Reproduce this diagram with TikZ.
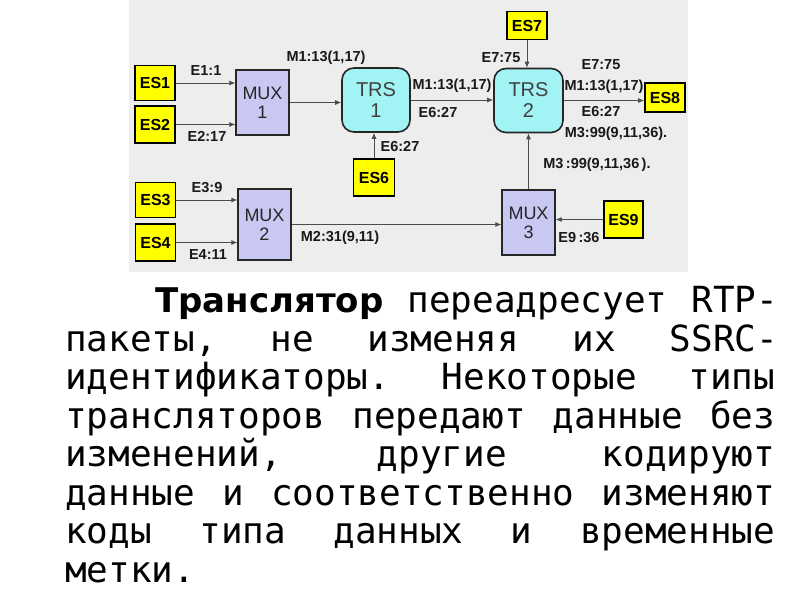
\documentclass[tikz,border=0pt]{standalone}
\usepackage{fontspec}
\setmainfont{DejaVu Sans}
\setmonofont{DejaVu Sans Mono}
\newfontfamily\labfont{Liberation Sans}
\usetikzlibrary{arrows.meta}
\definecolor{diagbg}{HTML}{EDEDED}
\definecolor{esyellow}{HTML}{FFFF00}
\definecolor{muxfill}{HTML}{C8C8F2}
\definecolor{trsfill}{HTML}{A2F4F4}
\newcommand\gap{\hspace{0pt plus 1fill}\ }
\begin{document}
\begin{tikzpicture}[x=1pt,y=-1pt,
  es/.style={draw=black, line width=1.7pt, fill=esyellow, minimum width=40pt, minimum height=35pt, inner sep=0pt, font=\labfont\bfseries\fontsize{16}{16}\selectfont},
  mux/.style={draw=black!85, line width=1.3pt, fill=muxfill, minimum width=53pt, minimum height=65pt, inner sep=0pt, align=center, text=black!85, font=\labfont\fontsize{18}{19}\selectfont},
  trs/.style={draw=black!85, line width=1.6pt, fill=trsfill, rounded corners=12pt, minimum width=68pt, minimum height=64pt, inner sep=0pt, align=center, text=black!75, font=\labfont\fontsize{20}{21}\selectfont},
  lbl/.style={inner sep=0pt, text=black!90, font=\labfont\bfseries\fontsize{14.5}{15}\selectfont},
  conn/.style={draw=black!70, line width=0.8pt, -{Latex[length=6pt,width=5pt]}},
  body/.style={anchor=base west, inner sep=0pt, font=\ttfamily\fontsize{36}{38}\selectfont}
]
\useasboundingbox (0,0) rectangle (800,600);
\fill[white] (0,0) rectangle (800,600);
\fill[diagbg] (129,0) rectangle (688,272);

% sources
\node[es] (es1) at (155,83) {ES1};
\node[es, minimum height=37pt] (es2) at (155,124.5) {ES2};
\node[es] (es3) at (155.5,200) {ES3};
\node[es, minimum height=37pt] (es4) at (155.5,242.5) {ES4};
\node[es, minimum width=41pt, minimum height=37pt] (es6) at (374,177.5) {ES6};
\node[es, minimum height=28pt] (es7) at (527,25.5) {ES7};
\node[es, minimum height=29pt] (es8) at (665,97.5) {ES8};
\node[es, minimum width=39pt, minimum height=37pt] (es9) at (623.5,219.5) {ES9};

% mixers and translators
\node[mux] (mux1) at (262.5,102.5) {MUX\\1};
\node[mux, minimum height=71pt] (mux2) at (264.5,224.5) {MUX\\2};
\node[mux] (mux3) at (528.5,222.5) {MUX\\3};
\node[trs] (trs1) at (376,100) {TRS\\1};
\node[trs, minimum width=69pt] (trs2) at (528.5,100.5) {TRS\\2};

% connectors
\draw[conn] (es1.east) -- (es1.east -| mux1.west);
\draw[conn] (es2.east) -- (es2.east -| mux1.west);
\draw[conn] (mux1.east) -- (mux1.east -| trs1.west);
\draw[conn] (trs1.east) -- (trs1.east -| trs2.west);
\draw[conn] (es6.north) -- (es6.north |- trs1.south);
\draw[conn] (es7.south) -- (es7.south |- trs2.north);
\draw[conn] (trs2.east) -- (trs2.east -| es8.west);
\draw[conn] (mux3.north) -- (trs2.south);
\draw[conn] (es3.east) -- (es3.east -| mux2.west);
\draw[conn] (es4.east) -- (es4.east -| mux2.west);
\draw[conn] (mux2.east) -- (mux2.east -| mux3.west);
\draw[conn] (es9.west) -- (es9.west -| mux3.east);

% labels
\node[lbl] (l1) at (206,71) {E1:1};
\node[lbl] (l2) at (207,136) {E2:17};
\node[lbl] (l3) at (326,58) {M1:13(1,17)};
\node[lbl] (l4) at (452,86) {M1:13(1,17)};
\node[lbl] (l5) at (438,113) {E6:27};
\node[lbl] (l6) at (400,147) {E6:27};
\node[lbl] (l7) at (501,58) {E7:75};
\node[lbl] (l8) at (601,65) {E7:75};
\node[lbl] (l9) at (604,87) {M1:13(1,17)};
\node[lbl] (l10) at (601,112) {E6:27};
\node[lbl] (l11) at (616,134) {M3:99(9,11,36).};
\node[lbl] (l12) at (597,165) {M3\,:99(9,11,36\,).};
\node[lbl] (l13) at (207,188) {E3:9};
\node[lbl] (l14) at (208,255) {E4:11};
\node[lbl] (l15) at (340,238) {M2:31(9,11)};
\node[lbl] (l16) at (579,238) {E9\,:36};

% body text
\node[body] (t1) at (155,312.5) {\makebox[623pt][s]{{\rmfamily\fontsize{34}{38}\selectfont\bfseries Транслятор}\gap переадресует\gap RTP-}};
\node[body] (t2) at (65,351) {\makebox[713pt][s]{пакеты,\gap не\gap изменяя\gap их\gap SSRC-}};
\node[body] (t3) at (65,389.5) {\makebox[710pt][s]{идентификаторы.\gap Некоторые\gap типы}};
\node[body] (t4) at (65,428) {\makebox[710pt][s]{трансляторов\gap передают\gap данные\gap без}};
\node[body] (t5) at (65,466.5) {\makebox[710pt][s]{изменений,\gap другие\gap кодируют}};
\node[body] (t6) at (65,505) {\makebox[710pt][s]{данные\gap и\gap соответственно\gap изменяют}};
\node[body] (t7) at (65,543.5) {\makebox[710pt][s]{коды\gap типа\gap данных\gap и\gap временные}};
\node[body] (t8) at (65,582) {метки.};
\end{tikzpicture}
\end{document}
